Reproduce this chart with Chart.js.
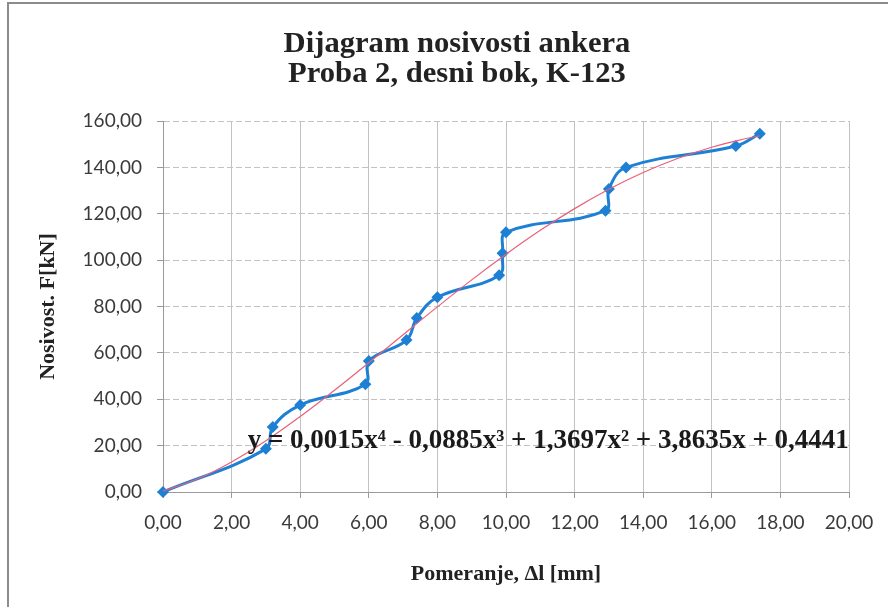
<!DOCTYPE html>
<html>
<head>
<meta charset="utf-8">
<script src="https://cdn.jsdelivr.net/npm/chart.js@4.4.1/dist/chart.umd.min.js"></script>
<style>
  html, body { margin: 0; padding: 0; background: #ffffff; }
  #wrap { width: 888px; height: 607px; position: relative; }
</style>
</head>
<body>
<div id="wrap"><canvas id="c" width="888" height="607"></canvas></div>
<script>
// ---- data ----
const displacement = [0, 3.0, 3.2, 4.0, 5.9, 6.0, 7.1, 7.4, 8.0, 9.8, 9.9, 10.0, 12.9, 13.0, 13.5, 16.7, 17.4];
const load = [0, 18.6, 28.0, 37.5, 46.5, 56.5, 65.5, 75.0, 84.0, 93.5, 103.0, 112.0, 121.3, 130.7, 140.0, 149.2, 154.5];
const trendX = [0, 1, 2, 3, 4, 5, 6, 7, 8, 9, 10, 11, 12, 13, 14, 15, 16, 17, 17.4];
const trendY = [0.44, 5.59, 12.97, 22.09, 32.53, 43.88, 55.76, 67.85, 79.85, 91.49, 102.51, 112.84, 122.21, 130.56, 137.77, 143.82, 148.70, 152.44, 153.63];
const titleLines = ['Dijagram nosivosti ankera', 'Proba 2, desni bok, K-123'];
const xTitle = 'Pomeranje, \u0394l [mm]';
const yTitle = 'Nosivost. F[kN]';
const equation = 'y = 0,0015x\u2074 - 0,0885x\u00b3 + 1,3697x\u00b2 + 3,8635x + 0,4441';
const equationAnchor = { x: 2.47, y: 22 };
const xMin = 0, xMax = 20, xStep = 2;
const yMin = 0, yMax = 160, yStep = 20;

const fmt = v => Number(v).toFixed(2).replace('.', ',');
const SERIF = '"Liberation Serif", "Times New Roman", serif';

const frame = {
  id: 'frame',
  beforeDraw(chart) {
    const ctx = chart.ctx;
    ctx.save();
    ctx.fillStyle = '#ffffff';
    ctx.fillRect(0, 0, chart.width, chart.height);
    ctx.strokeStyle = '#8c8c8c';
    ctx.lineWidth = 2;
    ctx.beginPath();
    ctx.moveTo(8, chart.height);
    ctx.lineTo(8, 3);
    ctx.lineTo(chart.width, 3);
    ctx.stroke();
    ctx.restore();
  }
};

const titleBlock = {
  id: 'titleBlock',
  afterDraw(chart) {
    const ctx = chart.ctx;
    ctx.save();
    ctx.font = 'bold 30px ' + SERIF;
    ctx.fillStyle = '#222222';
    ctx.textAlign = 'center';
    ctx.textBaseline = 'alphabetic';
    const cx = 457, baselines = [52, 82];
    titleLines.forEach((t, i) => {
      ctx.save();
      ctx.translate(cx, baselines[i]);
      ctx.scale(1.02, 1);
      ctx.fillText(t, 0, 0);
      ctx.restore();
    });
    ctx.restore();
  }
};

const eqLabel = {
  id: 'eqLabel',
  afterDatasetsDraw(chart) {
    const ctx = chart.ctx;
    const xs = chart.scales.x, ys = chart.scales.y;
    ctx.save();
    ctx.font = 'bold 27px ' + SERIF;
    ctx.fillStyle = '#1a1a1a';
    ctx.textAlign = 'left';
    ctx.textBaseline = 'middle';
    ctx.fillText(equation, xs.getPixelForValue(equationAnchor.x), ys.getPixelForValue(equationAnchor.y));
    ctx.restore();
  }
};

new Chart(document.getElementById('c'), {
  type: 'scatter',
  data: {
    datasets: [
      {
        label: 'Trend',
        data: trendX.map((x, i) => ({ x, y: trendY[i] })),
        showLine: true,
        borderColor: 'rgb(232, 96, 120)',
        borderWidth: 1.2,
        pointRadius: 0,
        tension: 0.4,
        fill: false
      },
      {
        label: 'Nosivost',
        data: displacement.map((x, i) => ({ x, y: load[i] })),
        showLine: true,
        borderColor: 'rgb(30, 128, 212)',
        backgroundColor: 'rgb(30, 128, 212)',
        borderWidth: 3,
        pointStyle: 'rectRot',
        pointRadius: 6,
        pointBorderWidth: 0,
        tension: 0.4,
        fill: false
      }
    ]
  },
  options: {
    responsive: false,
    animation: false,
    clip: false,
    layout: { padding: { left: 30, right: 39, top: 121, bottom: 0 } },
    plugins: {
      legend: { display: false },
      tooltip: { enabled: false },
      title: { display: false }
    },
    scales: {
      x: {
        type: 'linear',
        min: xMin, max: xMax,
        afterFit: s => { s.height = 115; },
        ticks: {
          stepSize: xStep,
          callback: v => fmt(v),
          color: '#3a3a3a',
          font: { family: 'Lato, "Open Sans", sans-serif', size: 19 },
          padding: 13,
          maxRotation: 0
        },
        grid: { color: '#c2c2c2', lineWidth: 1, tickLength: 6, tickColor: '#9a9a9a' },
        border: { color: '#9a9a9a', width: 1 },
        title: {
          display: true,
          text: xTitle,
          color: '#222222',
          font: { family: SERIF, size: 22, weight: 'bold' },
          padding: { top: 0, bottom: 19 }
        }
      },
      y: {
        type: 'linear',
        min: yMin, max: yMax,
        afterFit: s => { s.width = 133; },
        ticks: {
          stepSize: yStep,
          callback: v => fmt(v),
          color: '#3a3a3a',
          font: { family: 'Lato, "Open Sans", sans-serif', size: 19 },
          padding: 15
        },
        grid: { color: '#c2c2c2', lineWidth: 1, tickLength: 6, tickColor: '#9a9a9a' },
        border: { color: '#9a9a9a', width: 1, dash: [6, 3] },
        title: {
          display: true,
          text: yTitle,
          color: '#222222',
          font: { family: SERIF, size: 22, weight: 'bold' },
          padding: { top: 5, bottom: 0 }
        }
      }
    }
  },
  plugins: [frame, eqLabel, titleBlock]
});
</script>
</body>
</html>
